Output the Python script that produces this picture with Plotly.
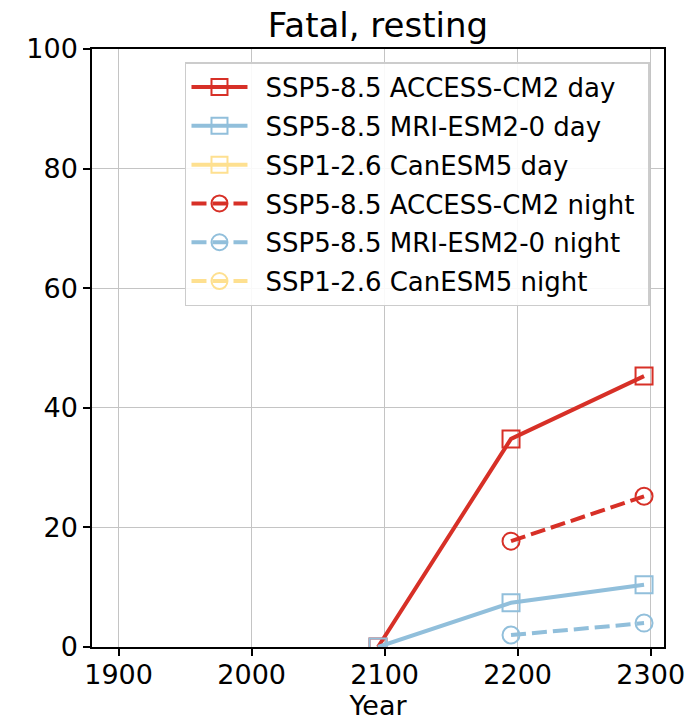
import plotly.graph_objects as go

years = [2095, 2195, 2295]

access_day = [0.0, 34.8, 45.3]
mri_day = [0.0, 7.4, 10.4]
canesm_day = [None, None, None]
access_night = [None, 17.7, 25.2]
mri_night = [None, 2.0, 4.0]
canesm_night = [None, None, None]

RED = "#d73027"
BLUE = "#91bfdb"
YELLOW = "#fee090"
DASHED = "15px,6px"

series = [
    ("SSP5-8.5 ACCESS-CM2 day", access_day, RED, "solid", "square-open"),
    ("SSP5-8.5 MRI-ESM2-0 day", mri_day, BLUE, "solid", "square-open"),
    ("SSP1-2.6 CanESM5 day", canesm_day, YELLOW, "solid", "square-open"),
    ("SSP5-8.5 ACCESS-CM2 night", access_night, RED, DASHED, "circle-open"),
    ("SSP5-8.5 MRI-ESM2-0 night", mri_night, BLUE, DASHED, "circle-open"),
    ("SSP1-2.6 CanESM5 night", canesm_night, YELLOW, DASHED, "circle-open"),
]

fig = go.Figure()
for i, (name, values, color, dash, symbol) in enumerate(series):
    fig.add_trace(
        go.Scatter(
            x=years,
            y=values,
            mode="lines+markers",
            # en space in front / nbsp behind to pad the legend like matplotlib's
            name="\u2002" + name + "\u00a0",
            legendgroup=f"g{i}",
            line=dict(color=color, width=4, dash=dash),
            marker=dict(symbol=symbol, size=17, color=color, line=dict(width=2, color=color)),
        )
    )

axis_style = dict(
    showline=True,
    linecolor="black",
    linewidth=1.5,
    mirror=True,
    showgrid=True,
    gridcolor="#c4c4c4",
    gridwidth=1.2,
    ticks="outside",
    ticklen=7,
    tickwidth=1.5,
    tickcolor="black",
    zeroline=False,
    automargin=False,
    tickfont=dict(size=27, color="black"),
)

fig.update_xaxes(
    range=[1880, 2310],
    tickvals=[1900, 2000, 2100, 2200, 2300],
    ticklabelstandoff=-4,
    title=dict(text="Year", font=dict(size=27, color="black"), standoff=2),
    **axis_style,
)
fig.update_yaxes(
    range=[0, 100],
    tickvals=[0, 20, 40, 60, 80, 100],
    **axis_style,
)

fig.update_layout(
    width=700,
    height=723,
    font=dict(family="DejaVu Sans", color="black"),
    title=dict(
        text="Fatal, resting",
        x=0.5,
        xref="paper",
        xanchor="center",
        y=0.965,
        yanchor="middle",
        font=dict(size=34),
    ),
    plot_bgcolor="white",
    paper_bgcolor="white",
    margin=dict(l=92, r=36, t=49, b=76),
    legend=dict(
        x=0.9755,
        y=0.978,
        xanchor="right",
        yanchor="top",
        bgcolor="rgba(255,255,255,0.9)",
        bordercolor="#cccccc",
        borderwidth=1.5,
        font=dict(size=26),
        itemwidth=56,
        tracegroupgap=2,
    ),
)

fig.write_html(
    "out.html",
    config={"displayModeBar": False},
    post_script="document.body.style.margin='0';",
)
